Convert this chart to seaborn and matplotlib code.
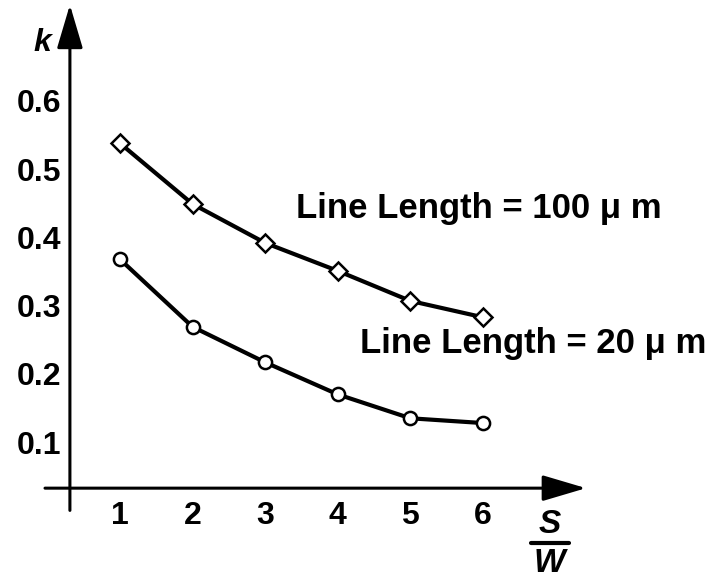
import seaborn as sns
import pandas as pd
import matplotlib.pyplot as plt
from matplotlib.lines import Line2D

# values
s_over_w = [1, 2, 3, 4, 5, 6]
k_100um = [0.538, 0.449, 0.392, 0.351, 0.307, 0.283]
k_20um = [0.368, 0.269, 0.217, 0.170, 0.135, 0.128]
y_ticks = [0.1, 0.2, 0.3, 0.4, 0.5, 0.6]
y_tick_labels = ["0.1", "0.2", "0.3", "0.4", "0.5", "0.6"]
x_tick_labels = ["1", "2", "3", "4", "5", "6"]


def main():
    sns.set_style("white")
    plt.rcParams["font.family"] = ["Liberation Sans", "DejaVu Sans"]
    plt.rcParams["text.color"] = "black"
    plt.rcParams["xtick.color"] = "black"
    plt.rcParams["ytick.color"] = "black"

    data = pd.concat([
        pd.DataFrame({"sw": s_over_w, "k": k_100um, "line": "100"}),
        pd.DataFrame({"sw": s_over_w, "k": k_20um, "line": "20"}),
    ])

    fig = plt.figure(figsize=(7.16, 5.8), dpi=100)
    ax = fig.add_axes([0, 0, 1, 1])

    sns.lineplot(
        data=data,
        x="sw",
        y="k",
        hue="line",
        style="line",
        markers={"100": "D", "20": "o"},
        dashes=False,
        palette={"100": "black", "20": "black"},
        linewidth=3,
        markersize=9.5,
        markerfacecolor="white",
        markeredgecolor="black",
        markeredgewidth=1.8,
        legend=False,
        ax=ax,
    )

    ax.set_xlim(-0.653, 9.21)
    ax.set_ylim(-0.102, 0.748)
    ax.set_xlabel("")
    ax.set_ylabel("")

    # axes through the data area, ticks pointing inward
    for name in ["top", "right"]:
        ax.spines[name].set_visible(False)
    ax.spines["left"].set_position(("data", 0.31))
    ax.spines["bottom"].set_position(("data", 0.0326))
    ax.spines["left"].set_color("none")
    ax.spines["bottom"].set_color("none")

    ax.set_yticks(y_ticks, y_tick_labels)
    ax.set_xticks(s_over_w, x_tick_labels)
    ax.tick_params(axis="y", direction="in", length=18, width=2.2, pad=6,
                   labelsize=23, colors="black")
    ax.tick_params(axis="x", direction="in", length=16, width=2.2, pad=9,
                   labelsize=23, colors="black")
    for lab in ax.get_xticklabels() + ax.get_yticklabels():
        lab.set_fontweight("bold")

    arrow = dict(arrowstyle="-|>,head_length=1.35,head_width=0.4",
                 lw=2.2, color="black", mutation_scale=20,
                 shrinkA=0, shrinkB=0)
    ax.annotate("", xy=(0.31, 0.741), xytext=(0.31, 0.0), arrowprops=arrow)
    ax.annotate("", xy=(7.42, 0.0326), xytext=(-0.033, 0.0326),
                arrowprops=arrow)

    ax.text(3.42, 0.4284, "Line Length = 100 \u03bc m",
            fontsize=25, fontweight="bold", va="baseline", ha="left")
    ax.text(4.31, 0.231, "Line Length = 20 \u03bc m",
            fontsize=25, fontweight="bold", va="baseline", ha="left")

    ax.text(-0.074, 0.685, "k", fontsize=23, fontweight="bold",
            style="italic", ha="center", va="center")
    ax.text(6.92, -0.0213, "S", fontsize=24, fontweight="bold",
            style="italic", ha="center", va="center")
    ax.text(6.92, -0.0785, "W", fontsize=24, fontweight="bold",
            style="italic", ha="center", va="center")
    ax.add_line(Line2D([6.66, 7.18], [-0.0481, -0.0481], lw=3,
                       color="black"))

    fig.savefig("out.png", dpi=100)


if __name__ == "__main__":
    main()
